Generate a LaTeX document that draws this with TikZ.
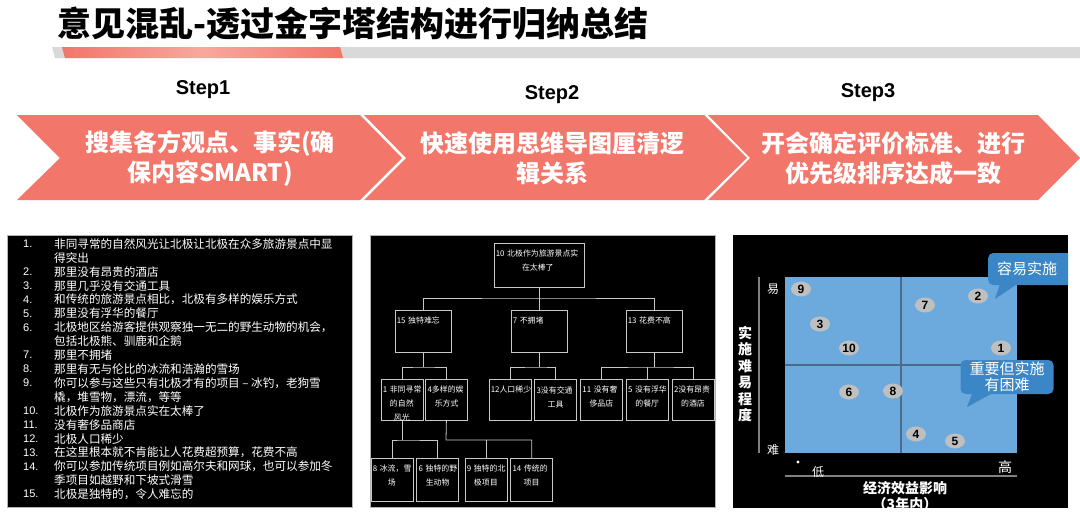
\documentclass[tikz,border=0pt]{standalone}
\usepackage{fontspec}
\setmainfont{Liberation Sans}
\newfontfamily\cjk{Noto Sans CJK SC}
\usetikzlibrary{positioning,shapes.geometric}
\definecolor{chevred}{HTML}{F2766A}
\definecolor{chevlt}{HTML}{F9A79E}
\definecolor{bargray}{HTML}{D9D9D9}
\definecolor{quadblue}{HTML}{6CAADD}
\definecolor{quadline}{HTML}{4D6B8A}
\definecolor{callblue}{HTML}{3B86C6}
\definecolor{ptgray}{HTML}{BFBFBF}
\definecolor{treegray}{HTML}{C8C8C8}
\begin{document}
\begin{tikzpicture}[x=1pt, y=-1pt, every node/.style={inner sep=0pt},
  steplbl/.style={font=\bfseries\fontsize{20}{24}\selectfont},
  chevtxt/.style={text=white, align=center, font=\cjk\bfseries\fontsize{24}{30}\selectfont},
  panel/.style={fill=black, draw=black!30, line width=0.6pt},
  num/.style={anchor=west, text=white, font=\fontsize{11}{13}\selectfont},
  item/.style={anchor=west, text=white, font=\cjk\fontsize{11.6}{13}\selectfont},
  tbox/.style={draw=treegray, line width=0.8pt, minimum width=42pt, minimum height=41pt},
  tlbl/.style={anchor=north west, text=white, inner xsep=2pt, inner ysep=7pt, text width=38pt, align=center, font=\cjk\fontsize{7.9}{14}\selectfont},
  tline/.style={draw=treegray, line width=0.8pt},
  pt/.style={ellipse, fill=ptgray, minimum width=20pt, minimum height=15pt, font=\bfseries\fontsize{12}{14}\selectfont},
  axlbl/.style={text=white, font=\cjk\fontsize{12}{14}\selectfont},
  axtitle/.style={text=white, align=center, font=\cjk\bfseries\fontsize{14}{16.5}\selectfont},
  callbox/.style={fill=callblue, rounded corners=5pt, text=white, font=\cjk\fontsize{15}{16}\selectfont}]
\useasboundingbox (0,0) rectangle (1080,520);
\fill[white] (0,0) rectangle (1080,520);
\node[anchor=west, font=\cjk\bfseries\fontsize{34}{40}\selectfont] (title) at (57,24) {意见混乱-透过金字塔结构进行归纳总结};
\fill[bargray] (52,47) -- (1080,47) -- (1080,58) -- (55,58) -- cycle;
\shade[left color=chevred, right color=chevred, middle color=chevlt] (62,47) -- (340,47) -- (343,58) -- (65,58) -- cycle;
\node[steplbl] (s1) at (203,90) {Step1};
\node[steplbl] (s2) at (552,95) {Step2};
\node[steplbl] (s3) at (868,93) {Step3};
\fill[chevred] (17,115) -- (360,115) -- (402,158) -- (360,200) -- (17,200) -- (60,158) -- cycle;
\fill[chevred] (364,115) -- (704,115) -- (747,158) -- (704,200) -- (364,200) -- (406,158) -- cycle;
\fill[chevred] (708,115) -- (1038,115) -- (1080,158) -- (1038,200) -- (708,200) -- (750,158) -- cycle;
\node[chevtxt] (c1) at (210,158) {搜集各方观点、事实(确\\保内容SMART)};
\node[chevtxt] (c2) at (552,158) {快速使用思维导图厘清逻\\辑关系};
\node[chevtxt] (c3) at (893,158) {开会确定评价标准、进行\\优先级排序达成一致};
\path[panel] (7,235) rectangle (352,507);
\foreach \n/\t [count=\k from 0] in {{1.}/{非同寻常的自然风光让北极让北极在众多旅游景点中显}, {}/{得突出}, {2.}/{那里没有昂贵的酒店}, {3.}/{那里几乎没有交通工具}, {4.}/{和传统的旅游景点相比，北极有多样的娱乐方式}, {5.}/{那里没有浮华的餐厅}, {6.}/{北极地区给游客提供观察独一无二的野生动物的机会，}, {}/{包括北极熊、驯鹿和企鹅}, {7.}/{那里不拥堵}, {8.}/{那里有无与伦比的冰流和浩瀚的雪场}, {9.}/{你可以参与这些只有北极才有的项目 – 冰钓，老狗雪}, {}/{橇，堆雪物，漂流，等等}, {10.}/{北极作为旅游景点实在太棒了}, {11.}/{没有奢侈品商店}, {12.}/{北极人口稀少}, {13.}/{在这里根本就不肯能让人花费超预算，花费不高}, {14.}/{你可以参加传统项目例如高尔夫和网球，也可以参加冬}, {}/{季项目如越野和下坡式滑雪}, {15.}/{北极是独特的，令人难忘的}} {
  \node[num] (n\k) at (23,244+13.9*\k) {\n};
  \node[item] (i\k) at (54,244+13.9*\k) {\t};
}
\path[panel] (370,235) rectangle (715,507);
\node[tbox, minimum width=90pt, minimum height=44pt] (top) at (539,265) {};
\node[tbox, minimum width=56pt, minimum height=42pt] (b15) at (423,331) {};
\node[tbox, minimum width=56pt, minimum height=42pt] (b7) at (539,331) {};
\node[tbox, minimum width=56pt, minimum height=42pt] (b13) at (654,331) {};
\node[tbox] (b1) at (402,400) {};
\node[tbox, right=2pt of b1] (b4) {};
\node[tbox] (b12) at (510,400) {};
\node[tbox, right=3pt of b12] (b3) {};
\node[tbox, right=3pt of b3] (b11) {};
\node[tbox, right=3pt of b11] (b5) {};
\node[tbox, right=3pt of b5] (b2) {};
\node[tbox, minimum height=43pt] (b8) at (392,480) {};
\node[tbox, minimum height=43pt, right=3pt of b8] (b6) {};
\node[tbox, minimum height=43pt] (b9) at (486,480) {};
\node[tbox, minimum height=43pt, right=3pt of b9] (b14) {};
\foreach \b/\w/\f/\r in {top/84/{10~北极作为旅游景点实}/{在太棒了}, b15/52/{15~独特难忘}/{}, b7/52/{7~不拥堵}/{}, b13/52/{13~花费不高}/{}, b1/38/{1~非同寻常}/{的自然\\风光}, b4/38/{4多样的娱}/{乐方式}, b12/38/{12人口稀少}/{}, b3/38/{3没有交通}/{工具}, b11/38/{11~没有奢}/{侈品店}, b5/38/{5~没有浮华}/{的餐厅}, b2/38/{2没有昂贵}/{的酒店}, b8/38/{8~冰流，雪}/{场}, b6/38/{6~独特的野}/{生动物}, b9/38/{9~独特的北}/{极项目}, b14/38/{14~传统的}/{项目}}
  \node[tlbl, text width=\w pt] (t\b) at (\b.north west) {\f\hspace*{\fill}\null\\\r};
\coordinate (bus0) at (539,298);
\coordinate (bus15) at (423,367);
\coordinate (bus7) at (539,367);
\coordinate (bus13) at (654,367);
\coordinate (bus1) at (402,440);
\coordinate (bus4) at (446,440);
\draw[tline] (top) -- (b7); \draw[tline] (b15.north) |- (bus0) -| (b13.north);
\draw[tline] (b15) -- (bus15); \draw[tline] (b1.north) |- (bus15) -| (b4.north);
\draw[tline] (b7) -- (bus7); \draw[tline] (b12.north) |- (bus7) -| (b3.north);
\draw[tline] (b13) -- (bus13); \draw[tline] (b11.north) |- (bus13) -| (b2.north); \draw[tline] (b5.north) -- (b5.north |- bus13);
\draw[tline] (b1) -- (bus1); \draw[tline] (b8.north) |- (bus1) -| (b6.north);
\draw[tline] (b4) -- (bus4) -| (b14.north); \draw[tline] (b9.north) -- (b9.north |- bus4);
\fill[black] (733,235) rectangle (1068,508);
\begin{scope}
\clip (733,235) rectangle (1068,508);
\fill[quadblue] (785,277) rectangle (1017,453);
\draw[quadline, line width=1.2pt] (901,277) -- (901,453) (785,365) -- (1017,365);
\draw[black!50, line width=1.2pt] (759,277) -- (759,453) (785,476) -- (1017,476);
\node[axlbl] (ease) at (773,289) {易};
\node[axlbl] (hard) at (773,450) {难};
\node[axlbl] (low) at (818,472) {低};
\node[axlbl, font=\cjk\fontsize{14}{16}\selectfont] (high) at (1005,467) {高};
\fill[white] (798,462) circle (1.6);
\node[axtitle] (ytitle) at (745,374) {实\\施\\难\\易\\程\\度};
\node[axtitle] (xtitle) at (905,496) {经济效益影响\\（3年内）};
\foreach \n/\x/\y in {9/801/289, 3/820/324, 10/849/348, 7/925/305, 2/978/296, 1/1001/348, 6/849/392, 8/893/391, 4/916/434, 5/955/441}
  \node[pt] (p\n) at (\x,\y) {\n};
\node[callbox, anchor=west, text width=90pt, inner xsep=9pt, minimum height=32pt, align=left] (call1) at (988,269) {容易实施};
\coordinate (tip1) at (995,299);
\fill[callblue] ([shift={(12pt,1pt)}]call1.south west) -- (tip1) -- ([shift={(29pt,1pt)}]call1.south west) -- cycle;
\node[callbox, align=center, minimum width=93pt, minimum height=34pt] (call2) at (1007,377) {重要但实施\\有困难};
\coordinate (tip2) at (967,407);
\fill[callblue] ([shift={(12pt,1pt)}]call2.south west) -- (tip2) -- ([shift={(32pt,1pt)}]call2.south west) -- cycle;
\end{scope}
\end{tikzpicture}
\end{document}
